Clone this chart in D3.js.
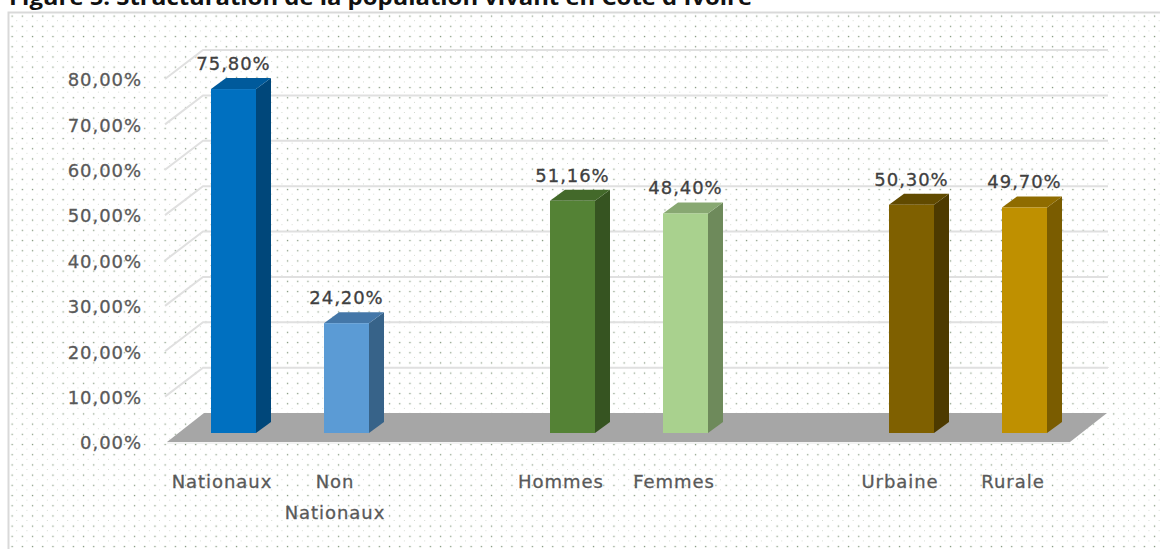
<!DOCTYPE html>
<html><head><meta charset="utf-8">
<script src="https://cdn.jsdelivr.net/npm/d3@7/dist/d3.min.js"></script>
<style>html,body{margin:0;padding:0;background:#fff;overflow:hidden}svg{display:block}</style>
</head><body><svg id="c" width="1160" height="549"></svg>
<script>
const title = "Figure 5: Structuration de la population vivant en Côte d'Ivoire";
const categories = ["Nationaux","Non Nationaux","gap1","Hommes","Femmes","gap2","Urbaine","Rurale"];
const barCategories = ["Nationaux","Non Nationaux","Hommes","Femmes","Urbaine","Rurale"];
const values = [75.80,24.20,51.16,48.40,50.30,49.70];
const frontColors = ["#0070C0","#5B9BD5","#548235","#A9D18E","#7F6000","#BF9000"];
const sideColors = ["#00477A","#376389","#365421","#6E8A5B","#4D3A00","#7A5C00"];
const topColors = ["#005A9B","#4477A8","#43692A","#88A872","#614A00","#8F6C00"];
const yTicks = [0,10,20,30,40,50,60,70,80];
const fmt = v => v.toFixed(2).replace(".",",") + "%";

const svg = d3.select("#c");
const defs = svg.append("defs");
const pat = defs.append("pattern").attr("id","dots").attr("patternUnits","userSpaceOnUse")
  .attr("width",10.2).attr("height",10.2).attr("x",7).attr("y",11);
pat.append("rect").attr("x",4.5).attr("y",4.5).attr("width",1.3).attr("height",1.3).attr("fill","#4f6b45").attr("opacity",.65);
pat.append("rect").attr("x",9.6).attr("y",9.6).attr("width",1.3).attr("height",1.3).attr("fill","#4f6b45").attr("opacity",.65);

// frame
svg.append("rect").attr("x",9).attr("y",13).attr("width",1151).attr("height",536).attr("fill","url(#dots)");
svg.append("path").attr("d","M8.5,549V12.5H1160").attr("fill","none").attr("stroke","#d9d9d9").attr("stroke-width",2);

svg.append("text").attr("x",9).attr("y",5).text(title)
  .attr("font-family","'Open Sans',sans-serif").attr("font-weight",700).attr("font-size",22)
  .attr("textLength",743).attr("lengthAdjust","spacingAndGlyphs").attr("fill","#111");

const x = d3.scaleBand().domain(categories).range([211,1047]).paddingInner(68/113).paddingOuter(0);
const y = d3.scaleLinear().domain([0,80]).range([433,70]);
const dx = 15, dy = 11;            // bar depth
const wallDx = 38, wallUp = 20, wallDown = 9, floorRight = 1107;

// gridlines on walls
svg.append("g").selectAll("path").data(yTicks.slice(1)).join("path")
  .attr("d", t => { const v = y(t); return `M${203-wallDx},${v+wallDown}L203,${v-wallUp}H${floorRight+1}`; })
  .attr("fill","none").attr("stroke","#e0e0e0").attr("stroke-width",2);

// floor
const fy0 = y(0);
svg.append("path").attr("d",`M${204-wallDx+1},${fy0+wallDown}L204,${fy0-wallUp}H${floorRight}L${floorRight-wallDx+1},${fy0+wallDown}Z`).attr("fill","#a6a6a6");
svg.append("path").attr("d",`M${204-wallDx+1},${fy0+wallDown+1}H${floorRight-wallDx+1}`).attr("stroke","#e8e8e8").attr("stroke-width",1);

const textStyle = (sel, color) => sel.attr("font-family","'DejaVu Sans',sans-serif").attr("font-size",18)
  .attr("letter-spacing",0.95).attr("fill",color).attr("stroke",color).attr("stroke-width",0.3);

// y axis labels
const axisY = d3.axisLeft(y.copy().range([y(0)+wallDown+1,y(80)+wallDown+1])).tickValues(yTicks).tickFormat(fmt).tickSize(0).tickPadding(0);
const gy = svg.append("g").attr("transform","translate(142,0)").call(axisY);
gy.select(".domain").remove();
textStyle(gy.selectAll("text"),"#595959");

// bars
const bw = x.bandwidth();
const bars = svg.append("g").selectAll("g").data(barCategories).join("g");
bars.append("path").attr("fill",(d,i)=>sideColors[i])
  .attr("d",(d,i)=>{const X=x(d)+bw,T=y(values[i]),B=y(0);return `M${X},${T}L${X+dx},${T-dy}V${B-dy}L${X},${B}Z`;});
bars.append("path").attr("fill",(d,i)=>topColors[i])
  .attr("d",(d,i)=>{const X=x(d),T=y(values[i]);return `M${X},${T}L${X+dx},${T-dy}H${X+bw+dx}L${X+bw},${T}Z`;});
bars.append("rect").attr("fill",(d,i)=>frontColors[i])
  .attr("x",d=>x(d)).attr("width",bw).attr("y",(d,i)=>y(values[i])).attr("height",(d,i)=>y(0)-y(values[i]));

// value labels
textStyle(bars.append("text").attr("text-anchor","middle").attr("x",d=>x(d)+bw/2)
  .attr("y",(d,i)=>y(values[i])-dy-8).text((d,i)=>fmt(values[i])),"#404040");

// category labels
const labelDx = -11.5;
const cat = svg.append("g").selectAll("text").data(barCategories).join("text").attr("text-anchor","middle");
textStyle(cat,"#595959");
cat.each(function(d){
  const words = d.split(" ");
  d3.select(this).selectAll("tspan").data(words).join("tspan")
    .attr("x",x(d)+bw/2+labelDx).attr("y",(w,j)=>488+j*31).text(w=>w);
});
</script></body></html>
